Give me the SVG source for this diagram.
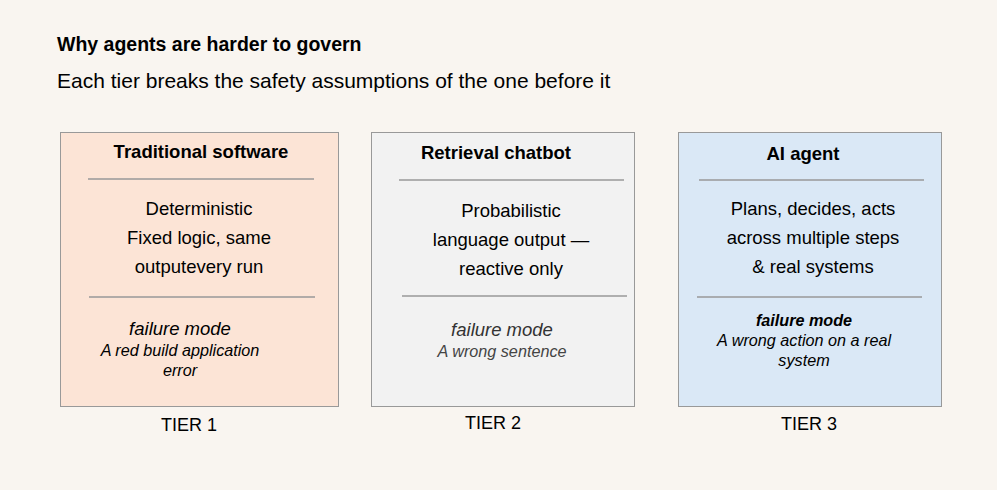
<svg xmlns="http://www.w3.org/2000/svg" width="997" height="490" viewBox="0 0 997 490">
<style>
text{font-family:"Liberation Sans",Arial,sans-serif;fill:#000}
.box{stroke:#999;stroke-width:1}
.sep{stroke:#999;stroke-width:1.5}
.h{font-weight:bold;font-size:18.5px;text-anchor:middle}
.b{font-size:18.5px;text-anchor:middle}
.fm{font-style:italic;font-size:18.5px;text-anchor:middle}
.fd{font-style:italic;font-size:16.2px;text-anchor:middle}
.t{font-size:18px;text-anchor:middle}
</style>
<rect width="997" height="490" fill="#f9f5f0"/>
<text x="57" y="51" font-size="19.5" font-weight="bold">Why agents are harder to govern</text>
<text x="57" y="88" font-size="21">Each tier breaks the safety assumptions of the one before it</text>
<g id="tier1">
<rect class="box" x="60.500" y="132.500" width="278" height="274" fill="#fce4d6"/>
<text class="h" x="201" y="158">Traditional software</text>
<line class="sep" x1="88" y1="179" x2="314" y2="179"/>
<text class="b" x="199" y="215">Deterministic</text>
<text class="b" x="199" y="244">Fixed logic, same</text>
<text class="b" x="199" y="273">outputevery run</text>
<line class="sep" x1="89" y1="297" x2="315" y2="297"/>
<text class="fm" x="180" y="335">failure mode</text>
<text class="fd" x="180" y="356">A red build application</text>
<text class="fd" x="180" y="376">error</text>
<text class="t" x="189" y="431">TIER 1</text>
</g>
<g id="tier2">
<rect class="box" x="371.500" y="132.500" width="263" height="274" fill="#f2f2f2"/>
<text class="h" x="496" y="159">Retrieval chatbot</text>
<line class="sep" x1="399" y1="180" x2="624" y2="180"/>
<text class="b" x="511" y="217">Probabilistic</text>
<text class="b" x="511" y="246">language output —</text>
<text class="b" x="511" y="275">reactive only</text>
<line class="sep" x1="402" y1="296" x2="627" y2="296"/>
<text class="fm" x="502" y="336" style="fill:#333">failure mode</text>
<text class="fd" x="502" y="357" style="fill:#444">A wrong sentence</text>
<text class="t" x="493" y="429">TIER 2</text>
</g>
<g id="tier3">
<rect class="box" x="678.500" y="132.500" width="263" height="274" fill="#dae8f6"/>
<text class="h" x="803" y="160">AI agent</text>
<line class="sep" x1="699" y1="180" x2="924" y2="180"/>
<text class="b" x="813" y="215">Plans, decides, acts</text>
<text class="b" x="813" y="244">across multiple steps</text>
<text class="b" x="813" y="273">&amp; real systems</text>
<line class="sep" x1="697" y1="297" x2="922" y2="297"/>
<text class="fd" x="804" y="326" font-weight="bold" font-size="15">failure mode</text>
<text class="fd" x="804" y="346">A wrong action on a real</text>
<text class="fd" x="804" y="366">system</text>
<text class="t" x="809" y="430">TIER 3</text>
</g>
<g id="connectors"/>
</svg>
